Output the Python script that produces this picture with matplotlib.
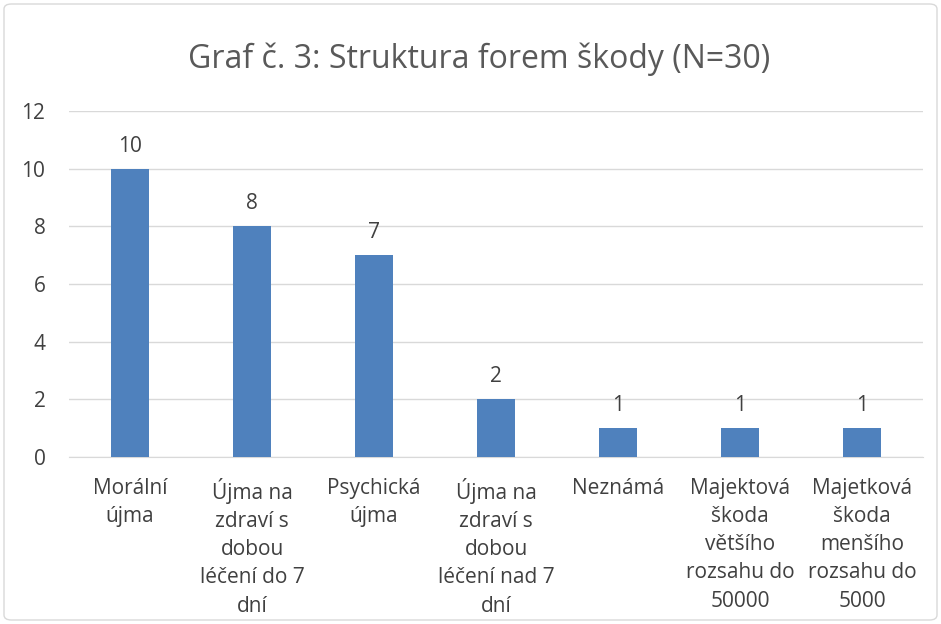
import matplotlib.pyplot as plt
from matplotlib.patches import FancyBboxPatch

categories = ["Morální\nújma",
              "Újma na\nzdraví s\ndobou\nléčení do 7\ndní",
              "Psychická\nújma",
              "Újma na\nzdraví s\ndobou\nléčení nad 7\ndní",
              "Neznámá",
              "Majektová\nškoda\nvětšího\nrozsahu do\n50000",
              "Majetková\nškoda\nmenšího\nrozsahu do\n5000"]
counts = [10, 8, 7, 2, 1, 1, 1]
yticks = [0, 2, 4, 6, 8, 10, 12]

plt.rcParams.update({"font.family": ["Open Sans", "DejaVu Sans"], "font.size": 15})
fig = plt.figure(figsize=(9.41, 6.24), dpi=100)
ax = fig.add_axes([69 / 941, 1 - 457 / 624, 854 / 941, 346 / 624])

x = range(len(counts))
ax.bar(x, counts, width=0.31, color="#4F81BD", zorder=3)
for xi, v in zip(x, counts):
    ax.text(xi, v + 0.42, str(v), ha="center", va="bottom", fontsize=15, color="#404040")

ax.set_xlim(-0.5, len(counts) - 0.5)
ax.set_ylim(0, 12)
ax.set_yticks(yticks)
ax.set_xticks(list(x))
ax.set_xticklabels(categories, fontsize=15, color="#404040", linespacing=1.45, va="top")
ax.tick_params(axis="both", length=0, colors="#404040", labelsize=15)
ax.tick_params(axis="x", pad=15)
ax.tick_params(axis="y", pad=17)
ax.grid(axis="y", color="#D9D9D9", lw=1, zorder=0)
for s in ["top", "right", "left"]:
    ax.spines[s].set_visible(False)
ax.spines["bottom"].set_color("#D9D9D9")

fig.text(479 / 941, 1 - 59 / 624, "Graf č. 3: Struktura forem škody (N=30)",
         ha="center", va="center", fontsize=23, color="#595959")

border = FancyBboxPatch((4 / 941, 4 / 624), 933 / 941, 616 / 624,
                        boxstyle="round,pad=0,rounding_size=0.008",
                        transform=fig.transFigure, fill=False, ec="#D9D9D9", lw=1)
fig.patches.append(border)

fig.savefig("out.png", dpi=100)
